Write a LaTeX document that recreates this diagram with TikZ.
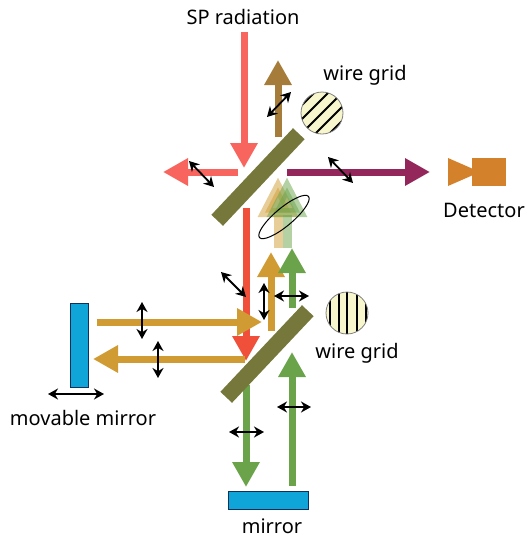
\documentclass[tikz,border=0pt]{standalone}
\usepackage{fontspec}
\setmainfont{Noto Sans}
\usetikzlibrary{arrows.meta}
\definecolor{spred}{HTML}{F8655F}
\definecolor{lowred}{HTML}{F0503A}
\definecolor{gold}{HTML}{CF9B32}
\definecolor{brown}{HTML}{A67C3A}
\definecolor{plum}{HTML}{93265A}
\definecolor{leaf}{HTML}{6AA34A}
\definecolor{olive}{HTML}{75783A}
\definecolor{cyanblue}{HTML}{10A5D8}
\definecolor{navy}{HTML}{12305A}
\definecolor{cream}{HTML}{F8F6CC}
\definecolor{orange}{HTML}{D4812B}
\begin{document}
\begin{tikzpicture}[
   x=1pt,y=-1pt,
   every node/.style={font=\fontsize{20}{22}\selectfont,inner sep=0pt},
   beam/.style={-{Triangle[length=25pt,width=26pt]},line width=7pt},
   pale/.style={-{Triangle[length=40pt,width=38pt]},line width=9pt,opacity=.5},
   pol/.style={{Stealth[length=10pt,width=11pt]}-{Stealth[length=10pt,width=11pt]},line width=1.8pt},
   splitter/.style={fill=olive,minimum width=119pt,minimum height=16pt,rotate=46.7},
   mirrorbox/.style={draw=navy,line width=1pt,fill=cyanblue},
   grid/.style={circle,draw=gray,line width=.8pt,fill=cream,minimum size=42pt}]
\useasboundingbox (0,0) rectangle (527,539);
% labels
\node (sp) at (243,17) {SP radiation};
\node (wiretext) at (365,75) {wire grid};
\node (gridtext) at (357,353) {wire grid};
\node (det) at (484,210) {Detector};
\node (movtext) at (83,418) {movable mirror};
\node (mirtext) at (272,526) {mirror};
% optics
\node[grid,path picture={\foreach \d in {-14,-7,0,7,14}
   \draw[draw=black,line width=2pt] ([shift={(\d,\d)}]path picture bounding box.center) ++(-26,26) -- ++(52,-52);}] (topgrid) at (322,113) {};
\node[grid,path picture={\foreach \d in {-17,-8,0,10,19}
   \draw[draw=black,line width=2pt] ([shift={(\d,0)}]path picture bounding box.center) ++(0,-22) -- ++(0,44);}] (lowgrid) at (347,313) {};
\node[mirrorbox,minimum width=18pt,minimum height=84pt] (movable) at (79,345) {};
\node[mirrorbox,minimum width=80pt,minimum height=18pt] (fixed) at (268,500) {};
\fill[orange] (472,158) rectangle (506,186);
\fill[orange] (448,158) -- (480,172) -- (448,186) -- cycle;
% beams
\draw[beam,spred] (244,32) to (244,168);
\draw[beam,spred] (238,172) to (163,172);
\draw[beam,brown] (278,137) to (278,60);
\draw[beam,plum] (287,172) to (430,172);
\draw[beam,lowred] (246,208) to (246,361);
\draw[beam,gold] (97,322) to (262,322);
\draw[beam,gold] (245,359) to (93,359);
\draw[beam,gold] (271,331) to (271,252);
\draw[beam,leaf] (292,308) to (292,248);
\draw[beam,leaf] (246,385) to (246,487);
\draw[beam,leaf] (292,486) to (292,352);
\draw[pale,gold] (278,248) to (278,177);
\draw[pale,leaf] (287,248) to (287,177);
\node[splitter] (top) at (258,177) {};
\node[splitter] (low) at (267,354) {};
% polarisation
\draw[line width=1pt] (284,217) ellipse[x radius=32pt,y radius=9pt,rotate=40];
\draw[pol] (267,117) to (291,92);
\draw[pol] (189,161) to (214,187);
\draw[pol] (328,157) to (353,183);
\draw[pol] (221,272) to (246,297);
\draw[pol] (264,283) to (264,320);
\draw[pol] (274,296) to (309,296);
\draw[pol] (142,302) to (142,339);
\draw[pol] (158,341) to (158,378);
\draw[pol] (48,394) to (104,394);
\draw[pol] (277,407) to (311,407);
\draw[pol] (229,432) to (264,432);
\end{tikzpicture}
\end{document}
